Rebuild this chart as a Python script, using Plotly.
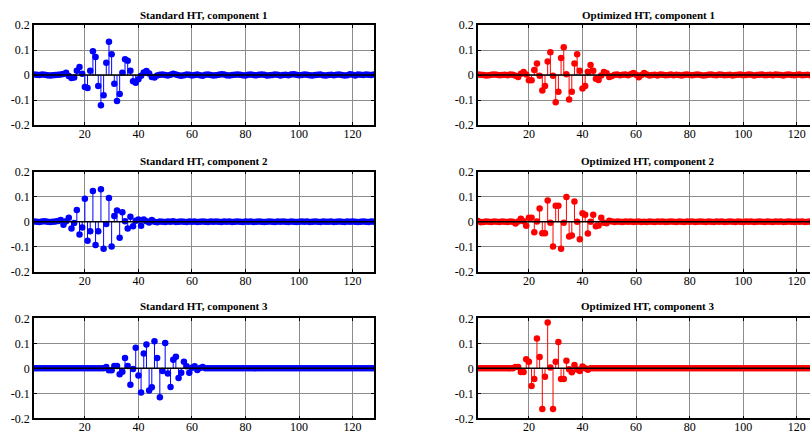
import plotly.graph_objects as go

# sample index
n = list(range(1, 129))

std_c1 = [
    0.002, 0.001, 0.000, 0.002, 0.001, -0.001, -0.002, -0.001, 0.000, 0.001, 0.002, 0.004, 0.009, -0.004, -0.012, -0.010,
    0.017, 0.032, 0.005, -0.048, -0.052, 0.017, 0.095, 0.072, -0.044, -0.121, -0.081, 0.049, 0.133, 0.083, -0.035, -0.104,
    -0.076, 0.009, 0.063, 0.057, 0.017, -0.025, -0.031, -0.017, -0.003, 0.010, 0.016, 0.006, -0.008, -0.010, -0.002, 0.001,
    0.002, 0.000, -0.002, 0.001, 0.005, 0.002, -0.001, -0.003, -0.001, 0.002, 0.001, -0.002, 0.000, 0.002, -0.001, -0.003,
    0.001, 0.002, 0.000, -0.002, -0.001, 0.001, 0.003, 0.002, -0.001, -0.002, 0.000, 0.001, 0.002, 0.001, -0.001, -0.002,
    0.001, 0.002, 0.000, -0.001, 0.001, 0.002, 0.001, -0.002, -0.001, 0.000, 0.002, 0.001, -0.002, 0.000, 0.001, -0.001,
    0.002, 0.003, 0.001, -0.001, 0.000, 0.002, 0.001, -0.001, -0.002, 0.000, 0.001, 0.002, -0.001, -0.002, 0.000, 0.001,
    -0.001, 0.001, 0.002, 0.000, -0.002, -0.001, 0.003, 0.001, -0.002, 0.002, 0.001, 0.000, 0.002, 0.001, 0.000, 0.002,
]

opt_c1 = [
    0.002, 0.001, 0.000, -0.002, -0.001, 0.001, 0.002, 0.001, -0.001, 0.000, 0.001, -0.001, 0.002, 0.001, -0.003, -0.008,
    0.005, 0.012, 0.002, -0.021, -0.021, 0.020, 0.046, -0.003, -0.062, -0.044, 0.054, 0.091, -0.003, -0.109, -0.067, 0.068,
    0.111, 0.003, -0.098, -0.067, 0.046, 0.083, 0.017, -0.054, -0.044, 0.013, 0.040, 0.017, -0.015, -0.020, -0.002, 0.012,
    0.007, -0.008, -0.004, 0.001, 0.002, -0.001, 0.001, 0.002, -0.001, 0.003, 0.008, 0.001, -0.009, 0.000, 0.008, 0.002,
    -0.002, 0.000, 0.001, -0.002, 0.002, 0.001, -0.001, 0.000, 0.002, -0.001, 0.001, 0.000, -0.002, 0.001, 0.002, 0.000,
    -0.001, 0.001, 0.002, 0.000, -0.002, -0.001, 0.001, 0.002, 0.000, -0.001, 0.002, 0.001, -0.001, 0.000, 0.001, -0.002,
    0.000, 0.001, 0.002, -0.001, 0.000, 0.002, 0.001, -0.002, 0.000, 0.001, 0.002, -0.001, 0.000, 0.001, -0.001, 0.002,
    0.001, 0.000, -0.002, 0.001, 0.002, 0.000, -0.001, 0.001, 0.002, -0.001, 0.000, 0.001, -0.001, 0.002, 0.000, 0.001,
]

std_c2 = [
    0.001, 0.000, -0.001, 0.001, 0.002, 0.000, -0.001, 0.000, 0.001, 0.003, 0.007, -0.012, 0.002, 0.016, -0.027, -0.005,
    0.047, -0.051, -0.023, 0.092, -0.076, -0.038, 0.123, -0.093, -0.038, 0.130, -0.108, -0.009, 0.095, -0.099, 0.023, 0.045,
    -0.064, 0.038, 0.002, -0.027, 0.020, -0.018, 0.004, 0.009, -0.016, 0.009, 0.002, -0.003, 0.007, 0.000, -0.002, 0.001,
    0.000, -0.001, 0.001, 0.000, 0.002, -0.001, 0.000, 0.001, 0.000, -0.001, 0.001, 0.000, 0.001, -0.001, 0.000, 0.001,
    0.000, -0.001, 0.001, 0.000, 0.001, 0.000, -0.001, 0.001, 0.000, 0.001, -0.001, 0.000, 0.001, 0.000, -0.001, 0.001,
    0.000, 0.001, -0.001, 0.000, 0.001, 0.000, -0.001, 0.000, 0.001, 0.000, -0.001, 0.001, 0.000, 0.001, 0.000, -0.001,
    0.001, 0.000, -0.001, 0.000, 0.001, 0.000, 0.001, -0.001, 0.000, 0.001, 0.000, -0.001, 0.001, 0.000, 0.000, 0.001,
    -0.001, 0.000, 0.001, 0.000, -0.001, 0.001, 0.000, 0.001, 0.000, -0.001, 0.000, 0.001, 0.000, -0.001, 0.001, 0.000,
]

opt_c2 = [
    0.003, -0.002, -0.001, 0.001, 0.000, -0.001, 0.001, 0.000, -0.001, 0.001, 0.000, -0.001, 0.001, 0.000, -0.007, 0.001,
    0.012, 0.002, -0.016, 0.016, 0.016, -0.042, 0.001, 0.053, -0.046, -0.046, 0.085, -0.004, -0.099, 0.064, 0.064, -0.108,
    -0.004, 0.099, -0.059, -0.055, 0.081, 0.000, -0.070, 0.034, 0.028, -0.047, 0.000, 0.028, -0.018, -0.015, 0.016, -0.004,
    -0.006, 0.004, 0.001, -0.001, 0.001, 0.000, -0.001, 0.001, 0.000, 0.001, -0.001, 0.000, 0.001, -0.001, 0.000, -0.001,
    0.001, 0.000, -0.001, 0.001, 0.000, 0.001, -0.001, 0.000, 0.001, 0.000, -0.001, 0.001, 0.000, -0.001, 0.001, 0.000,
    0.001, -0.001, 0.000, 0.001, 0.000, -0.001, 0.001, 0.000, -0.001, 0.001, 0.000, 0.001, -0.001, 0.000, 0.001, 0.000,
    -0.001, 0.001, 0.000, -0.001, 0.001, 0.000, 0.001, -0.001, 0.000, 0.001, 0.000, -0.001, 0.001, 0.000, -0.001, 0.001,
    0.000, 0.001, -0.001, 0.000, 0.001, 0.000, -0.001, 0.001, 0.000, 0.001, -0.001, 0.000, 0.001, 0.000, -0.001, 0.001,
]

std_c3 = [
    0.0, 0.0, 0.0, 0.0, 0.0, 0.0, 0.0, 0.0, 0.0, 0.0, 0.0, 0.0, 0.0, 0.0, 0.0, 0.0,
    0.0, 0.0, 0.0, 0.0, 0.0, 0.0, 0.0, 0.0, 0.0, 0.0, 0.0, 0.005, -0.008, -0.008, 0.009, 0.009,
    -0.024, -0.014, 0.041, 0.009, -0.066, -0.003, 0.082, -0.029, -0.097, 0.059, 0.095, -0.089, -0.076, 0.108, 0.041, -0.116,
    -0.011, 0.101, -0.021, -0.075, 0.034, 0.046, -0.039, -0.018, 0.026, 0.008, -0.018, 0.002, 0.008, -0.007, 0.001, 0.005,
    0.0, 0.0, 0.0, 0.0, 0.0, 0.0, 0.0, 0.0, 0.0, 0.0, 0.0, 0.0, 0.0, 0.0, 0.0, 0.0,
    0.0, 0.0, 0.0, 0.0, 0.0, 0.0, 0.0, 0.0, 0.0, 0.0, 0.0, 0.0, 0.0, 0.0, 0.0, 0.0,
    0.0, 0.0, 0.0, 0.0, 0.0, 0.0, 0.0, 0.0, 0.0, 0.0, 0.0, 0.0, 0.0, 0.0, 0.0, 0.0,
    0.0, 0.0, 0.0, 0.0, 0.0, 0.0, 0.0, 0.0, 0.0, 0.0, 0.0, 0.0, 0.0, 0.0, 0.0, 0.0,
]

opt_c3 = [
    0.0, 0.0, 0.0, 0.0, 0.0, 0.0, 0.0, 0.0, 0.0, 0.0, 0.0, 0.0, 0.0, 0.0, 0.005, 0.005,
    -0.015, -0.015, 0.036, 0.026, -0.071, -0.043, 0.119, 0.045, -0.163, -0.034, 0.183, 0.003, -0.163, 0.026, 0.105, -0.043,
    -0.043, 0.030, -0.004, -0.016, 0.013, -0.005, -0.011, 0.007, 0.000, -0.006, 0.0, 0.0, 0.0, 0.0, 0.0, 0.0,
    0.0, 0.0, 0.0, 0.0, 0.0, 0.0, 0.0, 0.0, 0.0, 0.0, 0.0, 0.0, 0.0, 0.0, 0.0, 0.0,
    0.0, 0.0, 0.0, 0.0, 0.0, 0.0, 0.0, 0.0, 0.0, 0.0, 0.0, 0.0, 0.0, 0.0, 0.0, 0.0,
    0.0, 0.0, 0.0, 0.0, 0.0, 0.0, 0.0, 0.0, 0.0, 0.0, 0.0, 0.0, 0.0, 0.0, 0.0, 0.0,
    0.0, 0.0, 0.0, 0.0, 0.0, 0.0, 0.0, 0.0, 0.0, 0.0, 0.0, 0.0, 0.0, 0.0, 0.0, 0.0,
    0.0, 0.0, 0.0, 0.0, 0.0, 0.0, 0.0, 0.0, 0.0, 0.0, 0.0, 0.0, 0.0, 0.0, 0.0, 0.0,
]

titles = [
    "Standard HT, component 1", "Optimized HT, component 1",
    "Standard HT, component 2", "Optimized HT, component 2",
    "Standard HT, component 3", "Optimized HT, component 3",
]
series = [std_c1, opt_c1, std_c2, opt_c2, std_c3, opt_c3]
y_tickvals = [-0.2, -0.1, 0, 0.1, 0.2]
y_ticktext = ["-0.2", "-0.1", "0", "0.1", "0.2"]

W, H = 810, 434
BLUE, RED = "#0000ff", "#ff0000"
FONT = "Liberation Serif, Times New Roman, serif"

col_px = [(34.0, 374.0), (478.0, 810.0)]
col_range = [(1, 128), (1, 124.9)]
col_title_center = [204.0, 648.0]
row_px = [(25.0, 125.0), (171.7, 271.7), (318.3, 418.3)]
row_title_y = [14.5, 161.0, 306.0]

fig = go.Figure()
layout = dict(
    width=W, height=H, autosize=False,
    margin=dict(l=0, r=0, t=0, b=0, pad=0, autoexpand=False),
    paper_bgcolor="white", plot_bgcolor="white", showlegend=False,
    font=dict(family=FONT, size=12, color="black"),
)
shapes, annotations = [], []

for k, (title, vals) in enumerate(zip(titles, series)):
    r, c = divmod(k, 2)
    color = BLUE if c == 0 else RED
    ax = "" if k == 0 else str(k + 1)
    xref, yref = "x" + ax, "y" + ax

    sx, sy = [], []
    for xi, yi in zip(n, vals):
        sx += [xi, xi, None]
        sy += [0, yi, None]
    fig.add_trace(go.Scatter(x=sx, y=sy, mode="lines", line=dict(color=color, width=1),
                             xaxis=xref, yaxis=yref, hoverinfo="skip"))
    fig.add_trace(go.Scatter(x=n, y=vals, mode="markers",
                             marker=dict(color=color, size=6.5, line=dict(width=0)),
                             xaxis=xref, yaxis=yref))

    x0, x1 = col_px[c]
    yt, yb = row_px[r]
    layout["xaxis" + ax] = dict(
        domain=[x0 / W, x1 / W], range=list(col_range[c]), anchor=yref,
        automargin=False, ticklabelstandoff=-3,
        tickmode="linear", tick0=0, dtick=20,
        showgrid=True, gridcolor="#8c8c8c", gridwidth=1,
        showline=True, linecolor="black", linewidth=1.5, mirror="ticks",
        ticks="inside", ticklen=3, tickcolor="black", zeroline=False,
        tickfont=dict(family=FONT, size=12, color="black"),
    )
    layout["yaxis" + ax] = dict(
        domain=[1 - yb / H, 1 - yt / H], range=[-0.2, 0.2], anchor=xref,
        automargin=False,
        tickmode="array", tickvals=y_tickvals, ticktext=y_ticktext,
        showgrid=True, gridcolor="#8c8c8c", gridwidth=1,
        showline=True, linecolor="black", linewidth=1.5,
        mirror="ticks" if c == 0 else False,
        ticks="inside", ticklen=3, tickcolor="black", zeroline=False,
        tickfont=dict(family=FONT, size=12, color="black"),
    )
    shapes.append(dict(type="line", xref=xref + " domain", yref=yref,
                       x0=0, x1=1, y0=0, y1=0, layer="above",
                       line=dict(color="black", width=1.5)))
    annotations.append(dict(text="<b>" + title + "</b>", xref="paper", yref="paper",
                            x=col_title_center[c] / W, y=1 - row_title_y[r] / H,
                            xanchor="center", yanchor="middle", showarrow=False,
                            font=dict(family=FONT, size=11, color="black")))

layout["shapes"] = shapes
layout["annotations"] = annotations
fig.update_layout(**layout)
fig.write_html("out.html")
